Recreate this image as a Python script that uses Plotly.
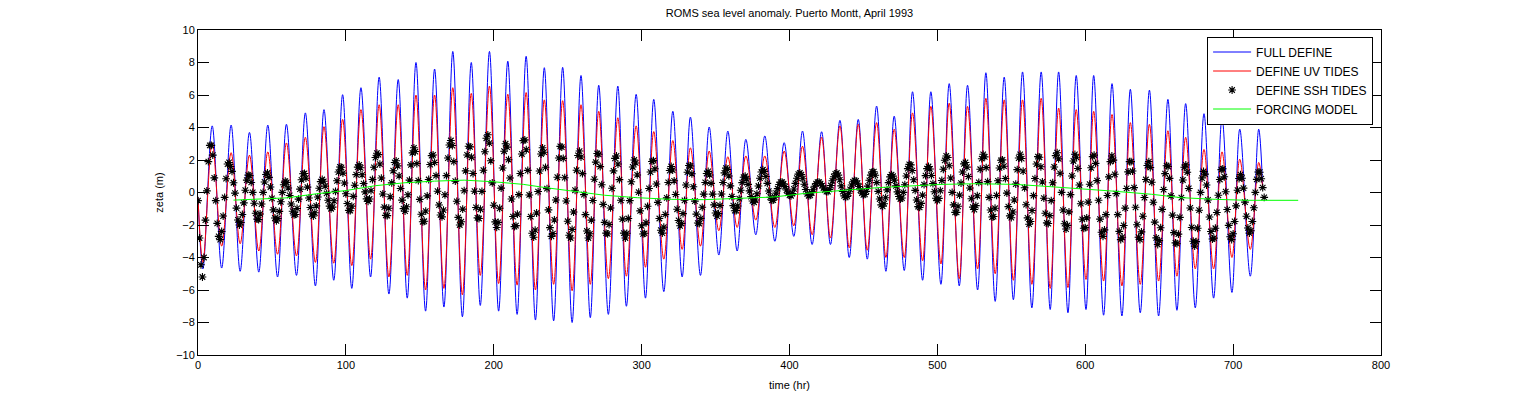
import plotly.graph_objects as go

# ---------------- data ----------------
# FULL DEFINE (blue): start / end points, troughs and peaks (hour, zeta m)
blue_start = (0.0, -0.3)
blue_end = (720.0, 0.3)
blue_trough_t = [3.3, 16.0, 28.5, 41.1, 53.8, 66.6, 79.4, 91.8, 104.0, 116.7,
                 129.1, 141.5, 153.9, 166.3, 178.8, 190.9, 203.3, 215.8, 228.2, 240.5,
                 253.0, 265.3, 277.5, 289.7, 302.6, 315.0, 327.4, 339.8, 352.2, 364.6,
                 377.2, 390.1, 402.9, 415.3, 427.7, 440.4, 452.6, 465.2, 477.6, 490.0,
                 502.4, 514.8, 527.2, 539.1, 551.4, 563.9, 576.3, 588.3, 600.5, 612.4,
                 624.8, 637.2, 649.6, 662.0, 674.4, 686.8, 699.2, 711.6]
blue_trough_v = [-4.7, -4.65, -4.85, -4.9, -5.2, -5.1, -5.75, -5.4, -5.9, -5.2,
                 -6.25, -6.5, -7.3, -7.05, -7.65, -6.95, -7.3, -7.5, -7.85, -7.9,
                 -8.0, -7.7, -7.5, -7.0, -6.5, -6.1, -5.2, -5.1, -3.85, -3.6,
                 -2.6, -3.0, -2.7, -3.2, -3.2, -4.0, -4.1, -4.85, -4.8, -5.4,
                 -5.65, -5.75, -6.0, -6.7, -6.6, -7.1, -7.2, -7.4, -7.2, -7.55,
                 -7.6, -7.4, -7.6, -7.25, -7.1, -6.5, -6.15, -5.15]
blue_peak_t = [9.6, 22.4, 34.8, 47.2, 59.8, 72.6, 85.2, 97.8, 110.2, 122.5,
               135.4, 147.4, 160.0, 172.3, 184.8, 197.1, 209.5, 221.9, 234.2, 246.6,
               259.0, 271.0, 283.9, 296.3, 308.2, 321.1, 333.0, 345.7, 358.3, 370.5,
               383.3, 396.4, 408.8, 421.7, 434.1, 446.5, 458.9, 470.8, 483.2, 495.6,
               508.0, 520.4, 532.8, 545.2, 557.6, 570.2, 582.0, 593.9, 605.7, 618.1,
               630.5, 643.4, 655.9, 667.9, 680.3, 692.5, 704.5, 717.3]
blue_peak_v = [4.1, 4.15, 3.7, 4.15, 4.2, 4.9, 5.1, 6.02, 6.45, 7.1,
               6.95, 8.0, 7.6, 8.68, 8.0, 8.68, 8.08, 8.38, 7.68, 7.7,
               7.2, 6.6, 6.55, 6.04, 5.73, 5.0, 4.64, 4.03, 3.78, 3.27,
               3.48, 3.07, 3.78, 3.74, 4.44, 4.5, 5.32, 4.7, 6.2, 6.2,
               6.7, 6.6, 7.37, 7.1, 7.42, 7.42, 7.42, 7.2, 7.2, 6.7,
               6.35, 6.3, 5.73, 5.47, 4.85, 4.6, 3.9, 3.9]

# DEFINE UV TIDES (red): same extremum times as the blue curve
red_start = (0.0, -0.3)
red_end = (720.0, 0.3)
red_trough_v = [-4.3, -3.3, -3.15, -3.6, -3.8, -3.9, -4.3, -4.35, -4.5, -4.1,
                -5.2, -5.1, -6.0, -5.9, -6.3, -5.1, -5.6, -5.7, -6.0, -5.65,
                -6.05, -5.65, -5.3, -5.15, -4.6, -4.1, -3.5, -3.3, -2.35, -2.15,
                -1.7, -2.15, -2.05, -2.6, -2.8, -3.4, -3.55, -4.0, -4.0, -4.2,
                -4.4, -5.3, -4.7, -5.0, -5.4, -5.65, -5.9, -5.85, -5.35, -5.45,
                -5.75, -5.65, -5.45, -5.15, -4.7, -4.7, -4.0, -3.5]
red_peak_v = [3.05, 2.45, 2.3, 2.5, 3.05, 3.4, 4.05, 4.5, 5.1, 5.4,
              5.4, 6.0, 6.0, 6.45, 6.1, 6.55, 6.05, 6.15, 5.7, 5.65,
              5.4, 5.0, 4.6, 4.1, 3.75, 3.2, 2.75, 2.55, 2.2, 2.25,
              2.25, 2.55, 2.85, 3.4, 4.1, 4.2, 4.3, 3.9, 4.9, 5.3,
              5.5, 5.3, 5.8, 5.7, 5.7, 5.8, 5.2, 5.1, 5.0, 4.8,
              4.3, 4.2, 3.8, 3.4, 2.65, 2.5, 2.05, 1.85]

# DEFINE SSH TIDES (black stars): hourly samples starting at hour 0
ssh_start_hr = 0
ssh_values = [
    -0.5, -2.8, -4.45, -5.2, -4.0, -1.7, 0.1, 1.9, 2.9, 2.9,
    2.3, 0.9, -0.5, -1.9, -2.7, -2.9, -2.4, -1.45, -0.3, 0.85,
    1.75, 1.85, 1.6, 1.3, 0.6, -0.04, -0.96, -1.69, -2.0, -1.85,
    -1.35, -0.64, 0.14, 0.76, 1.07, 1.04, 0.62, 0.01, -0.66, -1.28,
    -1.64, -1.67, -1.32, -0.71, 0.01, 0.65, 1.11, 1.2, 0.93, 0.34,
    -0.36, -1.07, -1.57, -1.75, -1.6, -1.16, -0.57, 0.01, 0.48, 0.7,
    0.62, 0.28, -0.18, -0.71, -1.15, -1.38, -1.35, -0.98, -0.41, 0.21,
    0.78, 1.15, 1.17, 0.88, 0.33, -0.34, -0.92, -1.34, -1.45, -1.25,
    -0.82, -0.28, 0.26, 0.67, 0.8, 0.69, 0.39, -0.05, -0.48, -0.84,
    -1.0, -0.9, -0.51, 0.07, 0.72, 1.26, 1.57, 1.55, 1.19, 0.58,
    -0.08, -0.68, -1.1, -1.12, -0.84, -0.24, 0.45, 1.1, 1.56, 1.7,
    1.52, 1.09, 0.55, 0.04, -0.39, -0.55, -0.4, 0.11, 0.8, 1.55,
    2.15, 2.42, 2.33, 1.75, 0.89, -0.09, -0.9, -1.41, -1.42, -0.97,
    -0.26, 0.59, 1.34, 1.85, 1.95, 1.64, 1.02, 0.25, -0.47, -0.99,
    -1.15, -0.88, -0.14, 0.76, 1.7, 2.44, 2.75, 2.52, 1.78, 0.73,
    -0.42, -1.34, -1.8, -1.77, -1.14, -0.21, 0.8, 1.72, 2.27, 2.31,
    1.85, 1.04, 0.08, -0.77, -1.38, -1.5, -1.08, -0.14, 1.04, 2.12,
    2.92, 3.2, 2.89, 1.9, 0.7, -0.54, -1.53, -2.0, -1.8, -1.02,
    0.11, 1.33, 2.31, 2.85, 2.81, 2.17, 1.17, 0.08, -0.92, -1.56,
    -1.6, -1.03, 0.07, 1.37, 2.51, 3.34, 3.55, 3.04, 1.95, 0.59,
    -0.78, -1.81, -2.15, -1.84, -0.97, 0.27, 1.51, 2.54, 3.0, 2.79,
    2.02, 0.89, -0.4, -1.48, -2.1, -2.04, -1.33, -0.13, 1.17, 2.37,
    3.19, 3.24, 2.63, 1.36, -0.15, -1.48, -2.51, -2.75, -2.31, -1.26,
    0.06, 1.32, 2.37, 2.75, 2.48, 1.55, 0.24, -1.07, -2.16, -2.7,
    -2.53, -1.69, -0.46, 0.94, 2.12, 2.84, 2.79, 2.1, 0.91, -0.52,
    -1.77, -2.63, -2.8, -2.27, -1.2, 0.14, 1.37, 2.28, 2.55, 2.18,
    1.16, -0.13, -1.36, -2.37, -2.8, -2.54, -1.7, -0.49, 0.82, 1.87,
    2.4, 2.35, 1.59, 0.48, -0.73, -1.84, -2.5, -2.55, -1.97, -0.95,
    0.26, 1.33, 2.1, 2.25, 1.75, 0.79, -0.48, -1.64, -2.5, -2.8,
    -2.51, -1.6, -0.5, 0.66, 1.57, 2.0, 1.82, 1.08, 0.02, -1.13,
    -2.05, -2.55, -2.51, -1.86, -0.85, 0.25, 1.26, 1.91, 1.96, 1.46,
    0.52, -0.61, -1.6, -2.32, -2.5, -2.13, -1.35, -0.33, 0.62, 1.35,
    1.6, 1.38, 0.72, -0.12, -1.03, -1.72, -2.05, -1.9, -1.3, -0.48,
    0.46, 1.25, 1.66, 1.63, 1.15, 0.35, -0.53, -1.33, -1.88, -1.92,
    -1.59, -0.91, -0.1, 0.62, 1.17, 1.3, 1.08, 0.56, -0.1, -0.76,
    -1.26, -1.45, -1.3, -0.8, -0.09, 0.62, 1.21, 1.5, 1.42, 1.02,
    0.41, -0.25, -0.81, -1.12, -1.11, -0.83, -0.38, 0.14, 0.61, 0.94,
    1.0, 0.84, 0.5, 0.1, -0.25, -0.52, -0.6, -0.46, -0.08, 0.4,
    0.88, 1.26, 1.4, 1.3, 0.98, 0.56, 0.09, -0.29, -0.48, -0.47,
    -0.29, -0.04, 0.24, 0.49, 0.64, 0.64, 0.54, 0.36, 0.15, -0.04,
    -0.17, -0.2, -0.06, 0.22, 0.56, 0.88, 1.13, 1.2, 1.1, 0.85,
    0.51, 0.18, -0.09, -0.2, -0.17, -0.02, 0.17, 0.38, 0.55, 0.64,
    0.64, 0.55, 0.42, 0.28, 0.15, 0.06, 0.06, 0.19, 0.43, 0.72,
    0.97, 1.15, 1.2, 1.07, 0.78, 0.41, 0.06, -0.21, -0.3, -0.24,
    -0.05, 0.19, 0.46, 0.66, 0.75, 0.71, 0.57, 0.37, 0.15, -0.04,
    -0.14, -0.12, 0.07, 0.39, 0.75, 1.07, 1.27, 1.28, 1.06, 0.61,
    0.07, -0.4, -0.76, -0.85, -0.69, -0.32, 0.16, 0.61, 0.96, 1.1,
    1.01, 0.76, 0.41, 0.04, -0.25, -0.4, -0.34, 0.01, 0.48, 1.02,
    1.47, 1.73, 1.7, 1.35, 0.78, 0.13, -0.46, -0.87, -0.92, -0.67,
    -0.16, 0.48, 1.04, 1.47, 1.6, 1.45, 1.05, 0.55, 0.05, -0.35,
    -0.5, -0.36, 0.11, 0.74, 1.43, 1.98, 2.25, 2.15, 1.65, 0.89,
    0.01, -0.76, -1.22, -1.22, -0.85, -0.16, 0.58, 1.26, 1.76, 1.85,
    1.56, 0.98, 0.28, -0.38, -0.9, -1.05, -0.81, -0.2, 0.62, 1.43,
    2.08, 2.35, 2.19, 1.53, 0.67, -0.3, -1.08, -1.51, -1.48, -0.97,
    -0.18, 0.72, 1.51, 1.98, 2.01, 1.62, 0.86, -0.04, -0.87, -1.44,
    -1.55, -1.2, -0.46, 0.52, 1.41, 2.12, 2.35, 2.09, 1.32, 0.29,
    -0.75, -1.56, -1.95, -1.78, -1.11, -0.19, 0.86, 1.75, 2.21, 2.17,
    1.58, 0.65, -0.35, -1.28, -1.87, -1.91, -1.42, -0.5, 0.6, 1.57,
    2.27, 2.45, 2.07, 1.18, 0.01, -1.08, -1.92, -2.25, -2.02, -1.19,
    -0.13, 1.02, 1.94, 2.35, 2.17, 1.48, 0.46, -0.69, -1.65, -2.2,
    -2.16, -1.56, -0.59, 0.51, 1.52, 2.21, 2.3, 1.79, 0.73, -0.48,
    -1.64, -2.45, -2.7, -2.3, -1.36, -0.18, 0.96, 1.9, 2.25, 1.99,
    1.12, -0.07, -1.36, -2.39, -2.9, -2.75, -2.03, -0.96, 0.25, 1.27,
    1.9, 1.9, 1.32, 0.3, -0.91, -1.98, -2.75, -2.9, -2.42, -1.46,
    -0.31, 0.8, 1.66, 1.9, 1.54, 0.63, -0.6, -1.82, -2.79, -3.2,
    -2.96, -2.17, -1.04, 0.18, 1.16, 1.65, 1.6, 0.87, -0.21, -1.39,
    -2.47, -3.1, -3.15, -2.56, -1.53, -0.31, 0.77, 1.55, 1.7, 1.25,
    0.25, -0.95, -2.15, -3.0, -3.3, -3.02, -2.2, -1.09, 0.01, 0.89,
    1.3, 1.13, 0.46, -0.46, -1.51, -2.4, -2.86, -2.81, -2.2, -1.23,
    -0.17, 0.8, 1.41, 1.46, 0.97, 0.05, -1.05, -2.02, -2.72, -2.9,
    -2.54, -1.78, -0.82, 0.14, 0.86, 1.1, 0.88, 0.27, -0.59, -1.46,
    -2.18, -2.5, -2.35, -1.78, -0.94, 0.01, 0.81, 1.26, 1.25, 0.85,
    0.3, -0.3,
]

# FORCING MODEL (green)
green_t = [24, 40, 60, 80, 100, 120, 140, 160, 180, 200, 220, 235, 250, 275, 297,
           320, 342, 369, 389, 411, 434, 460, 481, 503, 526, 540, 553, 573, 595,
           618, 645, 665, 688, 710, 744]
green_v = [-0.47, -0.42, -0.33, -0.08, 0.12, 0.42, 0.6, 0.7, 0.76, 0.66, 0.5, 0.3,
           0.13, -0.17, -0.32, -0.42, -0.44, -0.36, -0.28, -0.05, 0.13, 0.3, 0.4,
           0.5, 0.54, 0.54, 0.5, 0.38, 0.25, 0.09, -0.11, -0.32, -0.42, -0.48, -0.48]

x_ticks = [0, 100, 200, 300, 400, 500, 600, 700, 800]
y_ticks = [-10, -8, -6, -4, -2, 0, 2, 4, 6, 8, 10]

title_text = "ROMS sea level anomaly. Puerto Montt, April 1993"
x_label = "time (hr)"
y_label = "zeta (m)"


# --------------- assemble series from the read values ---------------
def merge_extrema(start, trough_t, trough_v, peak_t, peak_v, end):
    pts = [start]
    pts += list(zip(trough_t, trough_v))
    pts += list(zip(peak_t, peak_v))
    pts.append(end)
    pts.sort(key=lambda p: p[0])
    return [p[0] for p in pts], [p[1] for p in pts]


bx, by = merge_extrema(blue_start, blue_trough_t, blue_trough_v,
                       blue_peak_t, blue_peak_v, blue_end)
rx, ry = merge_extrema(red_start, blue_trough_t, red_trough_v,
                       blue_peak_t, red_peak_v, red_end)
sx = [ssh_start_hr + i for i in range(len(ssh_values))]

FONT = "Liberation Sans, Arial, Helvetica, sans-serif"

fig = go.Figure()
fig.add_trace(go.Scatter(x=bx, y=by, mode="lines", name="FULL DEFINE",
                         line=dict(color="#0000ff", width=1, shape="spline", smoothing=1.0)))
fig.add_trace(go.Scatter(x=rx, y=ry, mode="lines", name="DEFINE UV TIDES",
                         line=dict(color="#ff0000", width=1, shape="spline", smoothing=1.0)))
fig.add_trace(go.Scatter(x=sx, y=ssh_values, mode="markers", name="DEFINE SSH TIDES",
                         marker=dict(symbol="asterisk-open", size=6.5, color="black",
                                     line=dict(color="black", width=1.1))))
fig.add_trace(go.Scatter(x=green_t, y=green_v, mode="lines", name="FORCING MODEL",
                         line=dict(color="#00ff00", width=1)))

axis_common = dict(showline=True, linecolor="black", linewidth=1, mirror="allticks",
                   ticks="inside", ticklen=11, tickwidth=1, tickcolor="black",
                   showgrid=False, zeroline=False, automargin=False,
                   tickfont=dict(family=FONT, size=11, color="black"))

# the page body has an 8px default margin, so the figure is sized to fit inside it
FIG_W, FIG_H = 1510, 383
fig.update_layout(
    width=FIG_W, height=FIG_H, autosize=False,
    margin=dict(l=190, r=137, t=22, b=36),
    paper_bgcolor="white", plot_bgcolor="white",
    font=dict(family=FONT, size=11, color="black"),
    title=dict(text=title_text, x=0.5, xref="paper", xanchor="center",
               y=1 - 5 / FIG_H, yref="container", yanchor="middle",
               font=dict(family=FONT, size=11, color="black")),
    xaxis=dict(range=[0, 800], tickvals=x_ticks,
               title=dict(text=x_label, standoff=13, font=dict(family=FONT, size=11)),
               **axis_common),
    yaxis=dict(range=[-10, 10], tickvals=y_ticks,
               title=dict(text=y_label, standoff=10, font=dict(family=FONT, size=11)),
               **axis_common),
    legend=dict(x=0.853, y=0.98, xanchor="left", yanchor="top",
                bgcolor="white", bordercolor="black", borderwidth=1,
                font=dict(family=FONT, size=12, color="black"),
                itemwidth=38, tracegroupgap=0),
    showlegend=True,
)

fig.write_html("out.html")
